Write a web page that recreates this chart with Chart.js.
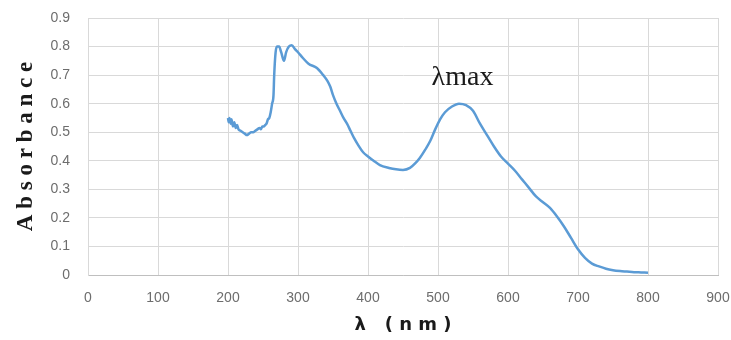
<!DOCTYPE html>
<html>
<head>
<meta charset="utf-8">
<script src="https://cdn.jsdelivr.net/npm/chart.js@4"></script>
<style>
  html, body {margin: 0; padding: 0; background: #fff;}
  #wrap {width: 731px; height: 340px;}
</style>
</head>
<body>
<div id="wrap"><canvas id="spectrum" width="731" height="340"></canvas></div>
<script>
// wavelength (nm) and absorbance
const waveNm = [200, 201, 202, 204, 205, 207, 209, 211, 213, 215, 218, 221, 224, 227, 230, 233, 236, 239, 242, 245,
    247, 249, 251, 253, 255, 257, 259, 261, 263, 265, 266, 268, 270, 273, 276, 280, 283, 287, 291, 296,
    300, 307, 315, 327, 336, 342, 346, 350, 355, 360, 365, 370, 375, 380, 386, 393, 400, 408, 417, 430,
    440, 450, 460, 467, 474, 482, 489, 496, 503, 510, 520, 530, 540, 550, 560, 570, 580, 590, 600, 610,
    620, 630, 640, 650, 660, 670, 680, 690, 700, 710, 720, 730, 740, 750, 760, 770, 780, 790, 800]
const absorbance = [0.55, 0.535, 0.55, 0.53, 0.545, 0.52, 0.535, 0.515, 0.525, 0.51, 0.505, 0.50, 0.495, 0.49, 0.495, 0.50, 0.50, 0.505, 0.51, 0.515,
    0.51, 0.52, 0.52, 0.525, 0.53, 0.545, 0.55, 0.57, 0.60, 0.63, 0.70, 0.78, 0.80, 0.80, 0.78, 0.75, 0.78, 0.80, 0.805, 0.79,
    0.78, 0.76, 0.74, 0.725, 0.70, 0.68, 0.66, 0.63, 0.60, 0.575, 0.55, 0.53, 0.505, 0.48, 0.455, 0.43, 0.415, 0.40, 0.385, 0.375,
    0.37, 0.368, 0.375, 0.39, 0.41, 0.44, 0.47, 0.51, 0.545, 0.57, 0.59, 0.60, 0.595, 0.575, 0.53, 0.49, 0.45, 0.415, 0.39, 0.365,
    0.335, 0.305, 0.275, 0.255, 0.235, 0.205, 0.17, 0.13, 0.09, 0.06, 0.04, 0.03, 0.022, 0.017, 0.014, 0.012, 0.01, 0.009, 0.008]

const xTitle = 'λ   ( n m )'
const yTitle = 'A b s o r b a n c e'
const peakLabel = 'λmax'
const peakAt = {x: 535, y: 0.69}

const points = waveNm.map((w, i) => ({x: w, y: absorbance[i]}))

// подпись λmax
const peakText = {
    id: 'peakText',
    afterDatasetsDraw(chart) {
        const {ctx, scales} = chart
        ctx.save()
        ctx.font = '28px "Liberation Serif"'
        ctx.fillStyle = '#1a1a1a'
        ctx.textAlign = 'center'
        ctx.textBaseline = 'middle'
        ctx.fillText(peakLabel, scales.x.getPixelForValue(peakAt.x), scales.y.getPixelForValue(peakAt.y))
        ctx.restore()
    }
}

const gridColor = '#d9d9d9'
const tickFont = {family: '"Liberation Sans"', size: 14}

new Chart(document.getElementById('spectrum').getContext('2d'), {
    type: 'scatter',
    data: {
        datasets: [{
            data: points,
            showLine: true,
            borderColor: '#5b9bd5',
            borderWidth: 2.5,
            pointRadius: 0,
            cubicInterpolationMode: 'monotone'
        }]
    },
    options: {
        responsive: false,
        animation: false,
        layout: {padding: 0},
        plugins: {legend: {display: false}, tooltip: {enabled: false}},
        scales: {
            x: {
                min: 0, max: 900,
                ticks: {stepSize: 100, color: '#6d6d6d', font: tickFont, padding: 15, maxRotation: 0},
                grid: {color: gridColor, drawTicks: false},
                border: {color: '#bfbfbf'},
                title: {
                    display: true, text: xTitle, color: '#1a1a1a',
                    font: {family: '"DejaVu Sans"', size: 18, weight: 'bold'},
                    padding: {top: 15}
                },
                afterFit: s => { s.height = 65; s.paddingRight = 13 }
            },
            y: {
                min: 0, max: 0.9,
                ticks: {stepSize: 0.1, color: '#6d6d6d', font: tickFont, padding: 18},
                grid: {color: gridColor, drawTicks: false},
                border: {color: gridColor},
                title: {
                    display: true, text: yTitle, color: '#1a1a1a',
                    font: {family: '"Liberation Serif"', size: 23, weight: 'bold'},
                    padding: {top: 12}
                },
                afterFit: s => { s.width = 88; s.paddingTop = 18 }
            }
        }
    },
    plugins: [peakText]
})
</script>
</body>
</html>
